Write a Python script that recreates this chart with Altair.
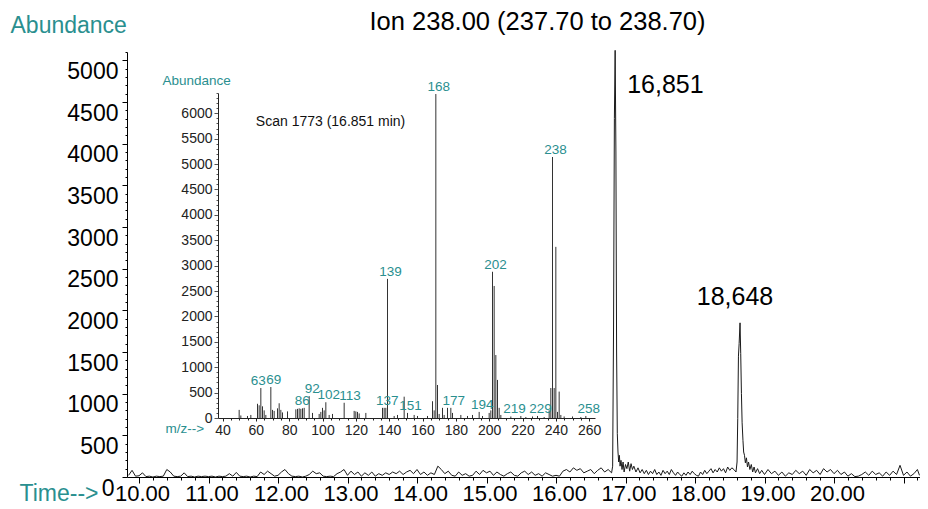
import altair as alt
import pandas as pd

# ---------------- chromatogram (Ion 238) ----------------
rt_min = [
    9.85, 9.90, 9.95, 10.00, 10.05, 10.10, 10.15, 10.20, 10.25, 10.30,
    10.35, 10.40, 10.45, 10.50, 10.55, 10.60, 10.65, 10.70, 10.75, 10.80,
    10.85, 10.90, 10.95, 11.00, 11.05, 11.10, 11.15, 11.20, 11.25, 11.30,
    11.35, 11.40, 11.45, 11.50, 11.55, 11.60, 11.65, 11.70, 11.75, 11.80,
    11.85, 11.90, 11.95, 12.00, 12.05, 12.10, 12.15, 12.20, 12.25, 12.30,
    12.35, 12.40, 12.45, 12.50, 12.55, 12.60, 12.65, 12.70, 12.75, 12.80,
    12.85, 12.90, 12.95, 13.00, 13.05, 13.10, 13.15, 13.20, 13.25, 13.30,
    13.35, 13.40, 13.45, 13.50, 13.55, 13.60, 13.65, 13.70, 13.75, 13.80,
    13.85, 13.90, 13.95, 14.00, 14.05, 14.10, 14.15, 14.20, 14.25, 14.30,
    14.35, 14.40, 14.45, 14.50, 14.55, 14.60, 14.65, 14.70, 14.75, 14.80,
    14.85, 14.90, 14.95, 15.00, 15.05, 15.10, 15.15, 15.20, 15.25, 15.30,
    15.35, 15.40, 15.45, 15.50, 15.55, 15.60, 15.65, 15.70, 15.75, 15.80,
    15.85, 15.90, 15.95, 16.00, 16.05, 16.10, 16.15, 16.20, 16.25, 16.30,
    16.35, 16.40, 16.45, 16.50, 16.55, 16.60, 16.65, 16.70, 16.75, 16.80,
    16.815, 16.828, 16.840, 16.851, 16.862, 16.872, 16.882, 16.892, 16.902, 16.912,
    16.922, 16.935, 16.950, 16.965, 16.980, 17.00, 17.02, 17.04, 17.06, 17.08,
    17.10, 17.12, 17.15, 17.18, 17.21, 17.24, 17.27, 17.30, 17.33, 17.36,
    17.39, 17.42, 17.45, 17.48, 17.51, 17.54, 17.57, 17.60, 17.63, 17.66,
    17.69, 17.72, 17.75, 17.78, 17.81, 17.84, 17.87, 17.90, 17.93, 17.96,
    17.99, 18.02, 18.05, 18.08, 18.11, 18.14, 18.17, 18.20, 18.23, 18.26,
    18.29, 18.32, 18.35, 18.38, 18.41, 18.44, 18.47, 18.50, 18.53, 18.56,
    18.59, 18.605, 18.615, 18.625, 18.635, 18.648, 18.658, 18.668, 18.678, 18.690,
    18.700, 18.712, 18.725, 18.740, 18.755, 18.770, 18.79, 18.81, 18.83, 18.85,
    18.87, 18.90, 18.93, 18.96, 19.00, 19.05, 19.10, 19.15, 19.20, 19.25,
    19.30, 19.35, 19.40, 19.45, 19.50, 19.55, 19.60, 19.65, 19.70, 19.75,
    19.80, 19.85, 19.90, 19.95, 20.00, 20.05, 20.10, 20.15, 20.20, 20.25,
    20.30, 20.35, 20.40, 20.45, 20.50, 20.55, 20.60, 20.65, 20.70, 20.75,
    20.80, 20.85, 20.90, 20.95, 21.00, 21.05, 21.10, 21.15, 21.20, 21.23,
]
abundance = [
    20, 80, 10, 15, 50, 5, 10, 0, 10, 5,
    10, 90, 60, 10, 5, 10, 50, 5, 10, 0,
    10, 5, 10, 5, 10, 0, 10, 5, 10, 40,
    10, 55, 10, 5, 10, 0, 10, 5, 60, 30,
    70, 40, 10, 20, 60, 90, 40, 10, 5, 10,
    0, 10, 30, 70, 40, 50, 10, 5, 10, 5,
    40, 60, 90, 20, 70, 30, 60, 10, 50, 20,
    60, 10, 40, 20, 50, 30, 60, 40, 70, 30,
    60, 80, 40, 90, 30, 60, 20, 50, 30, 130,
    90, 40, 70, 20, 10, 60, 20, 40, 10, 20,
    70, 30, 80, 50, 70, 20, 60, 30, 10, 40,
    60, 20, 10, 50, 70, 30, 60, 20, 40, 10,
    50, 30, 10, 20, 10, 70, 90, 60, 110, 80,
    100, 50, 70, 90, 40, 80, 110, 60, 90, 50,
    130, 1800, 4300, 5120, 3900, 1500, 520, 300, 180, 260,
    130, 200, 90, 180, 60, 150, 100, 180, 70, 160,
    90, 130, 60, 110, 50, 90, 40, 80, 30, 70,
    40, 90, 30, 60, 20, 80, 40, 70, 30, 90,
    50, 20, 60, 30, 10, 50, 20, 60, 30, 70,
    40, 20, 10, 60, 30, 80, 40, 70, 100, 50,
    90, 60, 110, 70, 100, 50, 120, 80, 110, 90,
    60, 180, 700, 1450, 1600, 1850, 1480, 1000, 650, 440,
    300, 260, 170, 230, 120, 180, 90, 150, 60, 120,
    50, 100, 40, 80, 30, 90, 40, 70, 20, 60,
    10, 50, 30, 80, 40, 70, 20, 90, 50, 80,
    30, 100, 60, 90, 40, 80, 30, 60, 10, 40,
    5, 10, 30, 60, 20, 70, 30, 50, 10, 60,
    20, 70, 30, 140, 20, 60, 10, 40, 90, 20,
]
peak_rt = [16.851, 18.648]
peak_ab = [5120, 1850]
peak_text = ["16,851", "18,648"]

# ---------------- inset mass spectrum (scan 1773) ----------------
mz = [50, 51, 55, 57, 61, 62, 63, 64, 65, 66, 69, 70, 71, 73, 74, 75, 76, 79,
      84, 85, 86, 87, 88, 89, 92, 94, 98, 99, 100, 101, 102, 104, 106, 113,
      119, 120, 121, 122, 126, 136, 137, 138, 139, 143, 145, 149, 151, 155,
      157, 163, 166, 167, 168, 169, 170, 172, 173, 175, 177, 178, 183, 187,
      190, 194, 196, 200, 201, 202, 203, 204, 205, 206, 207, 213, 219, 222,
      226, 229, 233, 236, 237, 238, 239, 240, 241, 242, 243, 245, 250, 255, 258]
mz_ab = [160, 50, 40, 60, 280, 250, 590, 230, 150, 60, 610, 160, 140, 190, 290, 160, 110, 130,
         170, 180, 190, 180, 190, 200, 430, 100, 80, 120, 200, 150, 310, 60, 80, 300,
         140, 130, 120, 90, 100, 200, 200, 200, 2740, 40, 60, 420, 100, 60,
         40, 40, 330, 150, 6380, 650, 80, 200, 60, 200, 200, 100, 60, 40,
         60, 120, 40, 100, 150, 2880, 2600, 1240, 750, 200, 60, 30, 40, 20,
         30, 40, 20, 150, 590, 5140, 590, 3370, 120, 520, 60, 30, 30, 20, 40]
mz_labels = [69, 86, 92, 102, 137, 139, 151, 168, 177, 194, 202, 229, 238, 258]
mz_labels_left = [63, 219]   # labels pushed left by their neighbour
mz_labels_right = [113]      # label pushed right by its neighbour
scan_text = ["Scan 1773 (16.851 min)"]
scan_pos_mz = [60]
scan_pos_ab = [5750]

FONT = "Liberation Sans"
TEAL = "#2a8f8f"
W, H = 793, 425

main_df = pd.DataFrame({"rt": rt_min, "ab": abundance})
peak_df = pd.DataFrame({"rt": peak_rt, "ab": peak_ab, "txt": peak_text})
ms_df = pd.DataFrame({"mz": mz, "ab": mz_ab})
lookup = dict(zip(mz, mz_ab))


def label_frame(values):
    return pd.DataFrame({"mz": values, "ab": [lookup[m] for m in values],
                         "txt": [str(m) for m in values]})


lab_df = label_frame(mz_labels)
lab_left_df = label_frame(mz_labels_left)
lab_right_df = label_frame(mz_labels_right)
scan_df = pd.DataFrame({"mz": scan_pos_mz, "ab": scan_pos_ab, "txt": scan_text})

x_main = alt.Scale(domain=[9.8273, 21.2374], range=[0, W], nice=False, zero=False)
y_main = alt.Scale(domain=[0, 5100], range=[H, 0], nice=False, zero=False)
x_ins = alt.Scale(domain=[37.3, 263.5], range=[91, 468], nice=False, zero=False)
y_ins = alt.Scale(domain=[0, 6400], range=[366, 41], nice=False, zero=False)

x_tick_vals = [round(10 + 0.2 * i, 1) for i in range(57)]
y_tick_vals = [100 * i for i in range(52)]
ins_x_vals = [40 + 5 * i for i in range(45)]
ins_y_vals = [100 * i for i in range(65)]

is_int = "abs(datum.value - round(datum.value)) < 0.001"

ax_main_x = alt.Axis(
    orient="bottom", values=x_tick_vals, grid=False,
    labelExpr=f"{is_int} && datum.value < 20.5 ? format(datum.value, '.2f') : ''",
    tickSize={"condition": {"test": is_int, "value": 6}, "value": 3},
    labelFont=FONT, labelFontSize=22, labelColor="black", labelPadding=17,
    labelBaseline="alphabetic", labelOffset=3,
    labelOverlap=False, labelFlush=False,
    domainColor="black", tickColor="black",
    title="Time-->", titleFont=FONT, titleFontSize=23, titleFontWeight="normal",
    titleColor=TEAL, titleAlign="right", titleBaseline="alphabetic",
    titleX=-29, titleY=23,
)
ax_main_y = alt.Axis(
    orient="left", values=y_tick_vals, grid=False,
    labelExpr="datum.value % 500 === 0 ? format(datum.value, 'd') : ''",
    tickSize={"condition": {"test": "datum.value % 500 === 0", "value": 5}, "value": 2},
    labelFont=FONT, labelFontSize=23, labelColor="black",
    labelPadding={"condition": {"test": "datum.value === 0", "value": 8}, "value": 4},
    labelBaseline="top", labelOverlap=False, labelFlush=False,
    domainColor="black", tickColor="black",
    title="Abundance", titleFont=FONT, titleFontSize=23, titleFontWeight="normal",
    titleColor=TEAL, titleAngle=0, titleAlign="left", titleBaseline="alphabetic",
    titleX=-117, titleY=-20,
)
ax_ins_x = alt.Axis(
    orient="bottom", offset=-59, values=ins_x_vals, grid=False,
    labelExpr="datum.value % 20 === 0 ? format(datum.value, 'd') : ''",
    tickSize={"condition": {"test": "datum.value % 20 === 0", "value": 3}, "value": 2},
    labelFont=FONT, labelFontSize=14, labelColor="#222", labelPadding=2,
    labelOverlap=False, labelFlush=False,
    domainColor="#222", tickColor="#222",
    title="m/z-->", titleFont=FONT, titleFontSize=13.5, titleFontWeight="normal",
    titleColor=TEAL, titleAlign="left", titleBaseline="alphabetic",
    titleX=38, titleY=14,
)
ax_ins_y = alt.Axis(
    orient="left", offset=-91, values=ins_y_vals, grid=False,
    labelExpr="datum.value % 500 === 0 ? format(datum.value, 'd') : ''",
    tickSize={"condition": {"test": "datum.value % 500 === 0", "value": 4}, "value": 2},
    labelFont=FONT, labelFontSize=14, labelColor="#222", labelPadding=2,
    labelBaseline="middle", labelOverlap=False, labelFlush=False,
    domainColor="#222", tickColor="#555",
    title="Abundance", titleFont=FONT, titleFontSize=13.5, titleFontWeight="normal",
    titleColor=TEAL, titleAngle=0, titleAlign="left", titleBaseline="alphabetic",
    titleX=-56, titleY=32,
)

main_line = alt.Chart(main_df).mark_line(color="#1a1a1a", strokeWidth=1).encode(
    x=alt.X("rt:Q", scale=x_main, axis=ax_main_x),
    y=alt.Y("ab:Q", scale=y_main, axis=ax_main_y),
)
peak1 = alt.Chart(peak_df.iloc[[0]]).mark_text(
    font=FONT, fontSize=25, color="black", align="left", baseline="alphabetic", dx=12, dy=43
).encode(x=alt.X("rt:Q", scale=x_main, axis=None), y=alt.Y("ab:Q", scale=y_main, axis=None), text="txt:N")
peak2 = alt.Chart(peak_df.iloc[[1]]).mark_text(
    font=FONT, fontSize=25, color="black", align="center", baseline="alphabetic", dx=-5, dy=-18
).encode(x=alt.X("rt:Q", scale=x_main, axis=None), y=alt.Y("ab:Q", scale=y_main, axis=None), text="txt:N")

ms_bars = alt.Chart(ms_df).mark_rule(color="#333", strokeWidth=1).encode(
    x=alt.X("mz:Q", scale=x_ins, axis=ax_ins_x),
    y=alt.Y("ab:Q", scale=y_ins, axis=ax_ins_y),
    y2=alt.datum(0),
)


def ms_text(df, align, dx):
    return alt.Chart(df).mark_text(
        font=FONT, fontSize=13.5, color=TEAL, align=align, baseline="alphabetic", dx=dx, dy=-3
    ).encode(x=alt.X("mz:Q", scale=x_ins, axis=None),
             y=alt.Y("ab:Q", scale=y_ins, axis=None), text="txt:N")


ms_labels = ms_text(lab_df, "center", 3)
ms_labels_left = ms_text(lab_left_df, "right", 5)
ms_labels_right = ms_text(lab_right_df, "left", -5)
scan_label = alt.Chart(scan_df).mark_text(
    font=FONT, fontSize=14, color="#111", align="left", baseline="alphabetic"
).encode(x=alt.X("mz:Q", scale=x_ins, axis=None), y=alt.Y("ab:Q", scale=y_ins, axis=None), text="txt:N")

chart = alt.layer(
    main_line, peak1, peak2, ms_bars, ms_labels, ms_labels_left, ms_labels_right, scan_label
).resolve_scale(
    x="independent", y="independent"
).properties(
    width=W, height=H,
    padding={"left": 119, "top": 44, "right": 0, "bottom": 28},
    autosize=alt.AutoSizeParams(type="none"),
    title=alt.TitleParams(
        text="Ion 238.00 (237.70 to 238.70)", font=FONT, fontSize=25.5, fontWeight="normal",
        color="black", anchor="middle", frame="group", dx=14, offset=0, dy=41,
        baseline="alphabetic",
    ),
).configure_view(stroke=None)

chart.save("out.html", embed_options={"renderer": "svg", "actions": False})
